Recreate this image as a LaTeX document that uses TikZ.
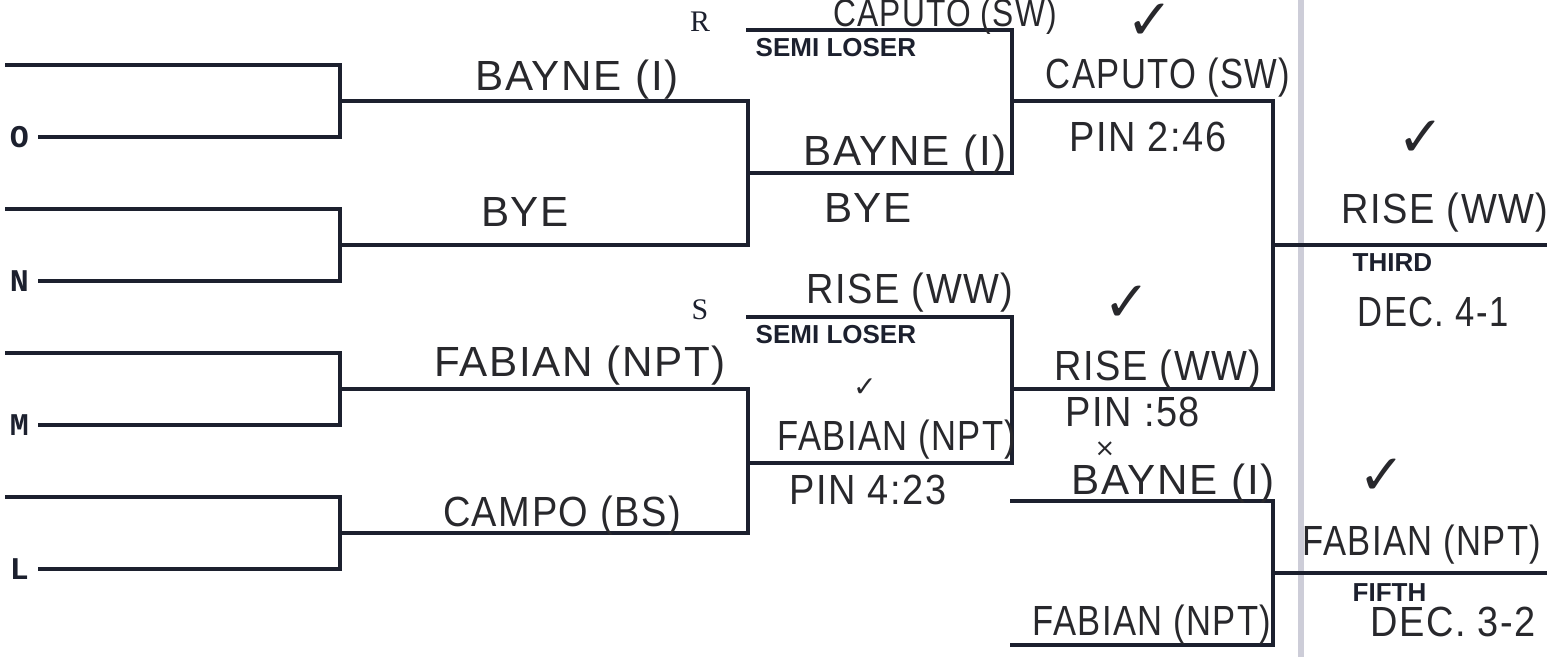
\documentclass[tikz,border=0pt]{standalone}
\usepackage{fontspec}
\setmainfont{Liberation Serif}
\newfontfamily\handfont[LetterSpace=4]{Liberation Sans}
\newfontfamily\printfont{Liberation Sans}
\newfontfamily\typefont{Liberation Mono}
\newfontfamily\symfont{DejaVu Sans}
\usetikzlibrary{positioning}
\definecolor{ink}{RGB}{28,32,46}
\definecolor{pencil}{RGB}{40,40,44}

\begin{document}
\begin{tikzpicture}[x=0.1mm, y=-0.1mm,
  bline/.style={line width=1.35pt, line cap=rect, draw=ink},
  fold/.style={line width=1.5pt, draw=blue!12!gray!35},
  hand/.style={font=\handfont\fontsize{12}{14}\selectfont, text=pencil, inner sep=0pt},
  tight/.style={xscale=0.82, transform shape},
  snug/.style={xscale=0.9, transform shape},
  tag/.style={font=\printfont\bfseries\fontsize{7.4}{8}\selectfont, text=ink, inner sep=0pt, anchor=west},
  seed/.style={font=\typefont\bfseries\fontsize{9}{10}\selectfont, text=ink, inner sep=0pt},
  pool/.style={font=\fontsize{8.5}{9}\selectfont, text=ink, inner sep=0pt},
  tick/.style={font=\symfont\fontsize{16}{16}\selectfont, text=pencil, inner sep=0pt},
  smalltick/.style={tick, font=\symfont\fontsize{8}{8}\selectfont}]
  \useasboundingbox (0,0) rectangle (1549,657);
  \draw[fold] (1301,0) -- (1301,657);

  % first round pairs
  \foreach \p/\yt/\yb in {o/65/137, n/209/281, m/353/425, l/497/569} {
    \coordinate (\p-top) at (7,\yt);
    \coordinate (\p-bot) at (40,\yb);
    \coordinate (\p-win) at (340,{(\yt+\yb)/2});
    \draw[bline] (\p-top) -| (\p-win) |- (\p-bot);
  }
  \node[seed, left=3pt of o-bot] (o) {O};
  \node[seed, left=3pt of n-bot] (n) {N};
  \node[seed, left=3pt of m-bot] (m) {M};
  \node[seed, left=3pt of l-bot] (l) {L};

  % semifinals
  \coordinate (r-join) at (748,173);
  \coordinate (s-join) at (748,463);
  \draw[bline] (o-win) -| (r-join) |- (n-win);
  \draw[bline] (m-win) -| (s-join) |- (l-win);

  % consolation
  \coordinate (r-loser) at (748,30);
  \coordinate (r-semi) at (1012,173);
  \coordinate (r-cons) at (1012,101);
  \coordinate (s-loser) at (748,317);
  \coordinate (s-semi) at (1012,463);
  \coordinate (s-cons) at (1012,389);
  \draw[bline] (r-loser) -| (r-semi) -- (r-join);
  \draw[bline] (s-loser) -| (s-semi) -- (s-join);

  % third place
  \coordinate (third-join) at (1273,245);
  \coordinate (third-end) at (1545,245);
  \draw[bline] (r-cons) -| (third-join) |- (s-cons);
  \draw[bline] (third-join) -- (third-end);

  % fifth place
  \coordinate (fifth-a) at (1012,501);
  \coordinate (fifth-b) at (1012,645);
  \coordinate (fifth-join) at (1273,573);
  \coordinate (fifth-end) at (1545,573);
  \draw[bline] (fifth-a) -| (fifth-join) |- (fifth-b);
  \draw[bline] (fifth-join) -- (fifth-end);

  % printed labels
  \node[pool] (r) at (700,22) {R};
  \node[pool] (s) at (700,310) {S};
  \node[tag] (r-tag) at (755,48) {SEMI LOSER};
  \node[tag] (s-tag) at (755,335) {SEMI LOSER};
  \node[tag] (third) at (1352,263) {THIRD};
  \node[tag] (fifth) at (1352,593) {FIFTH};

  % handwritten entries
  \node[hand] (w-o) at (577,80) {BAYNE (I)};
  \node[hand] (w-n) at (525,212) {BYE};
  \node[hand] (w-m) at (580,366) {FABIAN (NPT)};
  \node[hand, snug] (w-l) at (562,516) {CAMPO (BS)};
  \node[hand, tight, font=\handfont\fontsize{11}{13}\selectfont] (c-r) at (945,16) {CAPUTO (SW)};
  \node[hand] (f-r) at (905,155) {BAYNE (I)};
  \node[hand] (f-r2) at (868,208) {BYE};
  \node[hand, snug] (c-s) at (910,293) {RISE (WW)};
  \node[hand, tight] (f-s) at (897,440) {FABIAN (NPT)};
  \node[hand, snug] (f-s-res) at (868,490) {PIN 4:23};
  \node[hand, tight] (q-r) at (1168,78) {CAPUTO (SW)};
  \node[hand, snug] (q-r-res) at (1148,137) {PIN 2:46};
  \node[hand, snug] (q-s) at (1158,370) {RISE (WW)};
  \node[hand, snug] (q-s-res) at (1133,412) {PIN :58};
  \node[hand] (p-a) at (1173,484) {BAYNE (I)};
  \node[hand, tight] (p-b) at (1152,625) {FABIAN (NPT)};
  \node[hand, snug] (third-name) at (1445,213) {RISE (WW)};
  \node[hand, tight] (third-res) at (1433,312) {DEC. 4-1};
  \node[hand, tight] (fifth-name) at (1422,545) {FABIAN (NPT)};
  \node[hand, snug] (fifth-res) at (1453,622) {DEC. 3-2};

  % marks
  \node[tick] (t1) at (1150,22) {✓};
  \node[tick] (t2) at (1421,139) {✓};
  \node[tick] (t3) at (1127,304) {✓};
  \node[tick] (t4) at (1382,477) {✓};
  \node[smalltick] (t5) at (865,388) {✓};
  \node[smalltick, font=\symfont\fontsize{7}{7}\selectfont, text height=0.8ex, text depth=0pt] (x1) at (1105,450) {×};
\end{tikzpicture}
\end{document}
